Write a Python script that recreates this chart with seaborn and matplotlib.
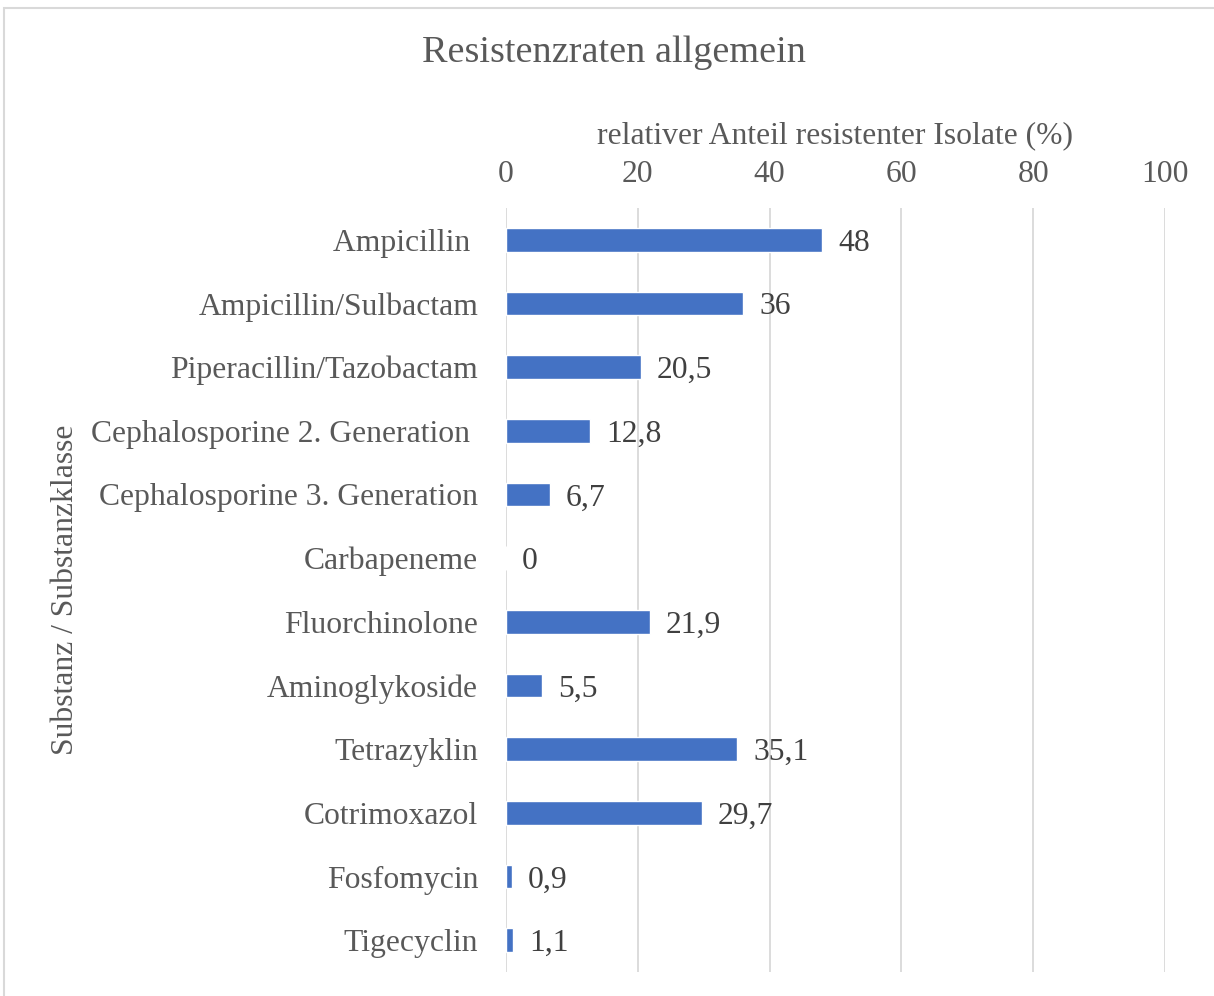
import matplotlib
matplotlib.use("Agg")
import matplotlib.pyplot as plt
import seaborn as sns
import pandas as pd

# Data
substances = [
    "Ampicillin ",
    "Ampicillin/Sulbactam",
    "Piperacillin/Tazobactam",
    "Cephalosporine 2. Generation ",
    "Cephalosporine 3. Generation",
    "Carbapeneme",
    "Fluorchinolone",
    "Aminoglykoside",
    "Tetrazyklin",
    "Cotrimoxazol",
    "Fosfomycin",
    "Tigecyclin",
]
rates = [48, 36, 20.5, 12.8, 6.7, 0, 21.9, 5.5, 35.1, 29.7, 0.9, 1.1]
x_ticks = [0, 20, 40, 60, 80, 100]

df = pd.DataFrame({"Substanz": substances, "Rate": rates})

sns.set_style("white")
plt.rcParams["font.family"] = ["Liberation Serif", "DejaVu Serif"]
text_color = "#595959"
fs = 22.8

fig = plt.figure(figsize=(12.14, 9.96), dpi=100)
ax = fig.add_axes([0.4168, 0.0241, 0.5428, 0.7671])

sns.barplot(data=df, x="Rate", y="Substanz", color="#4472C4", width=0.37,
            saturation=1, ax=ax, zorder=3)

# Value labels with German decimal comma
for patch, val in zip(ax.patches, rates):
    y = patch.get_y() + patch.get_height() / 2
    label = f"{val:g}".replace(".", ",")
    ax.text(val + 2.4, y, label, va="center_baseline", ha="left", fontsize=fs,
            color="#404040")

ax.set_xlim(0, 100)
ax.set_xticks(x_ticks)
ax.xaxis.tick_top()
ax.xaxis.set_label_position("top")
ax.tick_params(axis="x", length=0, pad=14, labelsize=fs, labelcolor=text_color)
ax.tick_params(axis="y", length=0, pad=20, labelsize=fs, labelcolor=text_color)
ax.grid(axis="x", color="#D9D9D9", linewidth=1.3, zorder=0)
ax.grid(axis="y", visible=False)
for s in ax.spines.values():
    s.set_visible(False)

ax.set_xlabel("relativer Anteil resistenter Isolate (%)", fontsize=fs,
              color=text_color, labelpad=12)
ax.set_ylabel("")
fig.text(0.054, 0.408, "Substanz / Substanzklasse", rotation=90, fontsize=fs,
         color=text_color, ha="center", va="center")
fig.text(0.506, 0.947, "Resistenzraten allgemein", fontsize=27.5,
         color=text_color, ha="center", va="center")

# Chart border
fig.add_artist(plt.Rectangle((0.003, -0.01), 1.0, 1.0 - 0.008 + 0.01,
                             transform=fig.transFigure, fill=False,
                             edgecolor="#D9D9D9", linewidth=1.5))

fig.savefig("out.png", dpi=100, facecolor="white")
